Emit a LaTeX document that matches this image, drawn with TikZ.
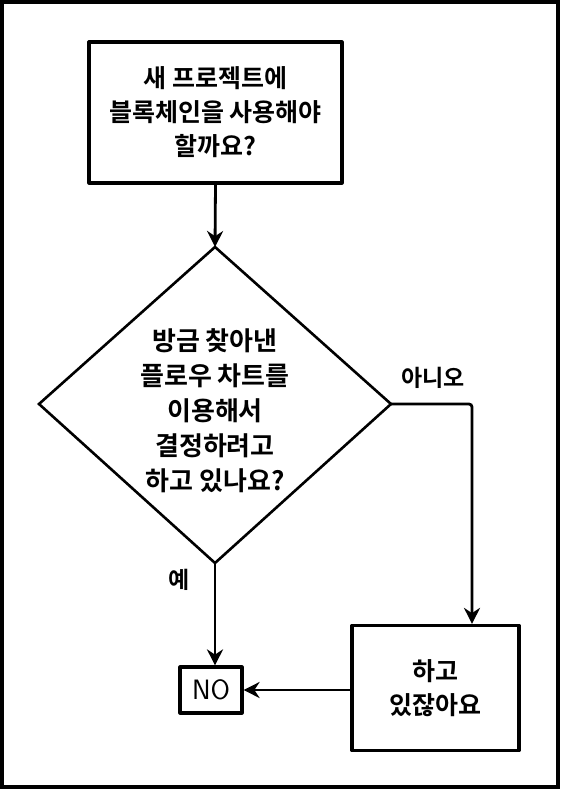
\documentclass[tikz,border=0pt]{standalone}
\usepackage{fontspec}
\setmainfont{Noto Sans CJK KR}[BoldFont={Noto Sans CJK KR Bold}]
\usetikzlibrary{arrows.meta,shapes.geometric}
\begin{document}
\begin{tikzpicture}[x=1pt,y=-1pt,
  every node/.style={font=\fontsize{25}{34}\selectfont\bfseries, align=center, inner sep=0pt},
  boxst/.style={draw, line width=3.2pt, line join=round},
  flow/.style={line width=2.8pt, -{Stealth[length=16pt,width=16pt]}},
  plain/.style={line width=2.8pt}]
\useasboundingbox (0,0) rectangle (560,789);
\draw[line width=3.5pt] (2,2) rectangle (558,787);
% top box
\node[boxst, minimum width=253pt, minimum height=141pt] (start) at (215.5,112.5) {새 프로젝트에\\블록체인을 사용해야\\할까요?};
% diamond
\coordinate (dtop) at (215,247);
\coordinate (dleft) at (39,404);
\coordinate (dright) at (391,404);
\coordinate (dbot) at (215,563);
\draw[line width=2.6pt, line join=miter] (dtop) -- (dright) -- (dbot) -- (dleft) -- cycle;
\node[font=\fontsize{26}{35}\selectfont\bfseries] (dtext) at (215,411) {방금 찾아낸\\플로우 차트를\\이용해서\\결정하려고\\하고 있나요?};
% boxes
\node[boxst, minimum width=62pt, minimum height=46pt, font=\fontsize{28}{28}\selectfont\sffamily] (no) at (211,690) {NO};
\node[boxst, minimum width=167pt, minimum height=125pt] (doing) at (435.5,688) {하고\\있잖아요};
% connectors
\draw[flow] (start.south) -- (dtop);
\coordinate (corner) at (472,404);
\draw[flow, rounded corners=3pt] (dright) -- (corner) -- (doing.north -| corner);
\draw[flow] (dbot) -- (dbot |- no.north);
\draw[flow] (doing.west |- no.east) -- (no.east);
% labels
\node[font=\fontsize{23}{24}\selectfont\bfseries] (yes) at (179,580) {예};
\node[font=\fontsize{23}{24}\selectfont\bfseries] (nolabel) at (433,378) {아니오};
\end{tikzpicture}
\end{document}
